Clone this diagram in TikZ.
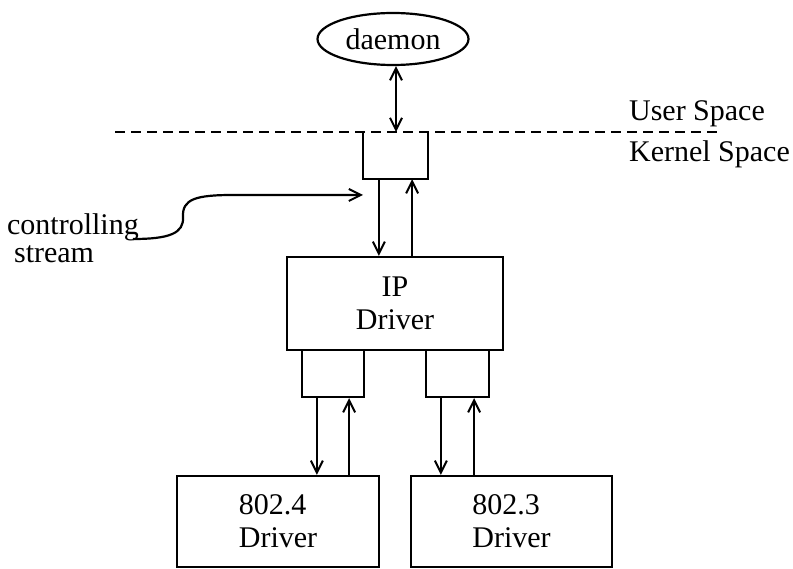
\documentclass[tikz,border=0pt]{standalone}
\usepackage{fontspec}
\setmainfont{Liberation Serif}
\usepackage{tikz}
\usetikzlibrary{arrows.meta,shapes.geometric}

\begin{document}
\begin{tikzpicture}[x=1pt,y=-1pt,line width=2.2pt,
        box/.style={draw,rectangle,minimum width=#1},
        lnk/.style={-{Straight Barb[length=12pt,width=12pt,line width=2pt]}},
        dlnk/.style={{Straight Barb[length=12pt,width=12pt,line width=2pt]}-{Straight Barb[length=12pt,width=12pt,line width=2pt]}}]
        \tikzstyle{every node}+=[inner sep=0pt,font=\fontsize{30}{33}\selectfont]
        \useasboundingbox (0,0) rectangle (793,569);
        \node (daemon) [draw,ellipse,minimum width=151,minimum height=52] at (393,39) {daemon};
        \coordinate (ul) at (115,132);
        \coordinate (ur) at (720,132);
        \draw [dash pattern=on 10pt off 6pt] (ul) -- (ur);
        \node (usr) [anchor=west] at (628,114) {User Space};
        \node (krn) [anchor=west] at (628,154) {Kernel Space};
        \node (sb) [minimum width=63,minimum height=46] at (395.5,155) {};
        \draw (sb.north west) -- (sb.south west) -- (sb.south east) -- (sb.north east);
        \draw [dlnk] ([xshift=3]daemon.south) -- ([xshift=3]daemon.south |- ul);
        \node (ip) [box=216,minimum height=93,align=center] at (395,303.5) {IP\\Driver};
        \node (lb) [box=62,minimum height=47] at (333,373.5) {};
        \node (rb) [box=63,minimum height=47] at (457.5,373.5) {};
        \node (d4) [box=202,minimum height=91,align=left] at (278,521.5) {802.4\\Driver};
        \node (d3) [box=201,minimum height=91,align=left] at (511.5,521.5) {802.3\\Driver};
        \draw [lnk] ([xshift=16]sb.south west) -- ([xshift=16]sb.south west |- ip.north);
        \draw [lnk] ([xshift=-16]sb.south east |- ip.north) -- ([xshift=-16]sb.south east);
        \draw [lnk] ([xshift=16]lb.south west) -- ([xshift=16]lb.south west |- d4.north);
        \draw [lnk] ([xshift=-16]lb.south east |- d4.north) -- ([xshift=-16]lb.south east);
        \draw [lnk] ([xshift=16]rb.south west) -- ([xshift=16]rb.south west |- d3.north);
        \draw [lnk] ([xshift=-16]rb.south east |- d3.north) -- ([xshift=-16]rb.south east);
        \node (ctl) [anchor=north west,align=left,font=\fontsize{30}{28}\selectfont] at (6,213) {controlling\\\hspace*{7pt}stream};
        \coordinate (cs) at (133,239);
        \coordinate (ce) at (363,195);
        \draw [lnk] (cs) .. controls (170,239) and (184,233) .. (183,217)
                .. controls (182,199) and (196,195) .. (233,195) -- (ce);
\end{tikzpicture}
\end{document}
